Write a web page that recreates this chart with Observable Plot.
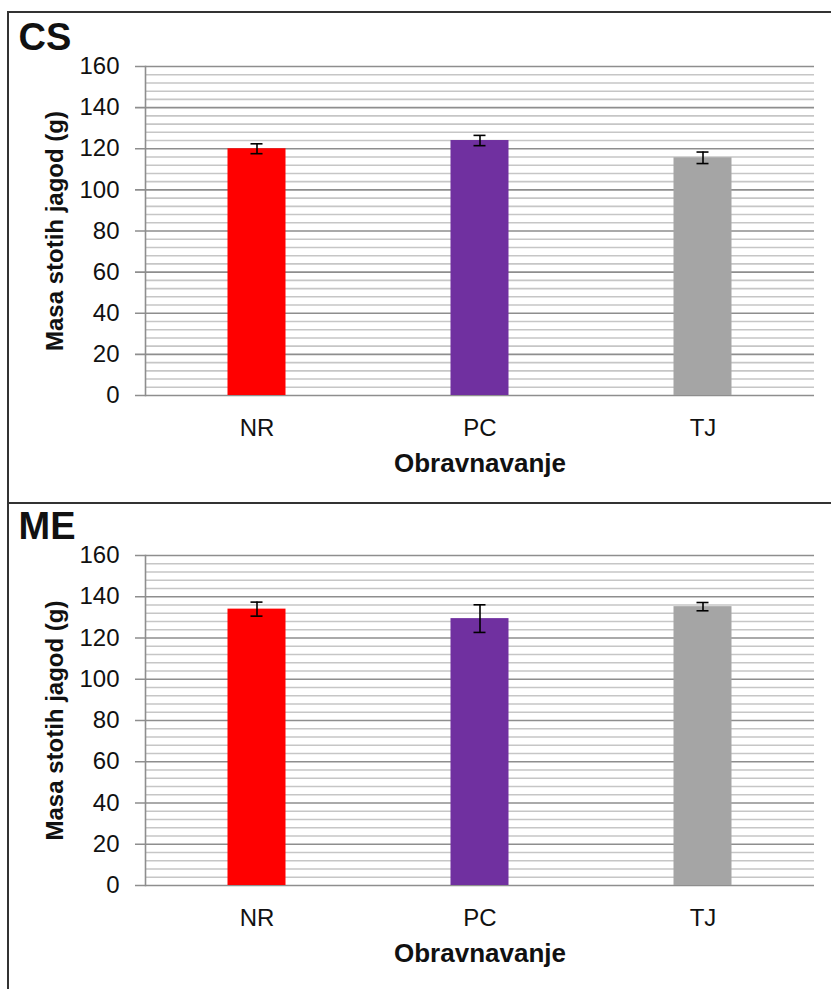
<!DOCTYPE html>
<html>
<head>
<meta charset="utf-8">
<script src="https://cdn.jsdelivr.net/npm/d3@7"></script>
<script src="https://cdn.jsdelivr.net/npm/@observablehq/plot@0.6"></script>
<style>
  body { margin: 0; background: white; }
  #wrap { position: relative; width: 831px; height: 989px; overflow: hidden; background: white; }
  .panel { position: absolute; left: 0; }
  .line { position: absolute; background: #333; }
</style>
</head>
<body>
<div id="wrap">
  <div id="p1" class="panel" style="top:0px"></div>
  <div id="p2" class="panel" style="top:503px"></div>
  <div class="line" style="left:7px; top:11px; width:2px; height:978px"></div>
  <div class="line" style="left:7px; top:11px; width:824px; height:2px"></div>
  <div class="line" style="left:7px; top:502px; width:824px; height:2px"></div>
</div>
<script>
const categories = ["NR", "PC", "TJ"];
const barColors = ["#ff0000", "#7030a0", "#a5a5a5"];
const csMeans = [120, 124, 115.6];
const csErrors = [2.4, 2.5, 2.8];
const meMeans = [134, 129.4, 135.2];
const meErrors = [3.4, 6.7, 2.0];
const yTicks = [0, 20, 40, 60, 80, 100, 120, 140, 160];
const minorTicks = d3.range(0, 161, 4);
const yLabel = "Masa stotih jagod (g)";
const xLabel = "Obravnavanje";

const FONT = "'Liberation Sans', Arial, sans-serif";

function panel(title, means, errors, height, marginTop, marginBottom) {
  const data = categories.map((c, i) => ({cat: c, v: means[i], e: errors[i], color: barColors[i]}));
  return Plot.plot({
    width: 831,
    height,
    marginTop,
    marginBottom,
    marginLeft: 145,
    marginRight: 17,
    style: {fontFamily: FONT, background: "transparent", overflow: "visible", color: "#111"},
    x: {domain: categories, padding: 0, label: null},
    y: {domain: [0, 160], label: null},
    color: {type: "identity"},
    marks: [
      Plot.ruleY(minorTicks.filter(t => t % 20 !== 0), {stroke: "#c6c6c6", strokeWidth: 1.6}),
      Plot.ruleY(yTicks, {stroke: "#8e8e8e", strokeWidth: 1.6, insetLeft: -10}),
      Plot.barY(data, {x: "cat", y: "v", fill: "color", insetLeft: 82.5, insetRight: 82.5}),
      Plot.ruleX(data, {x: "cat", y1: d => d.v - d.e, y2: d => d.v + d.e, stroke: "#000", strokeWidth: 1.6}),
      Plot.tickY(data, {x: "cat", y: d => d.v + d.e, stroke: "#000", strokeWidth: 1.6, insetLeft: 105.5, insetRight: 105.5}),
      Plot.tickY(data, {x: "cat", y: d => d.v - d.e, stroke: "#000", strokeWidth: 1.6, insetLeft: 105.5, insetRight: 105.5}),
      Plot.frame({anchor: "left", stroke: "#8e8e8e", strokeWidth: 1.6}),
      Plot.axisY({ticks: yTicks, tickSize: 0, tickPadding: 26, fontSize: 24, label: null}),
      Plot.axisX({tickSize: 0, tickPadding: 23, fontSize: 24, label: null}),
      Plot.text([xLabel], {text: d => d, frameAnchor: "bottom", dy: 68, textAnchor: "middle", lineAnchor: "middle", fontSize: 26, fontWeight: "bold"}),
      Plot.text([yLabel], {text: d => d, frameAnchor: "left", dx: -90, rotate: -90, textAnchor: "middle", lineAnchor: "middle", fontSize: 24, fontWeight: "bold"}),
      Plot.text([title], {text: d => d, frameAnchor: "top-left", dx: -127, dy: -28.5, textAnchor: "start", lineAnchor: "middle", fontSize: 38, fontWeight: "bold"})
    ]
  });
}

document.getElementById("p1").appendChild(panel("CS", csMeans, csErrors, 503, 66, 108));
document.getElementById("p2").appendChild(panel("ME", meMeans, meErrors, 486, 52, 104));
</script>
</body>
</html>
